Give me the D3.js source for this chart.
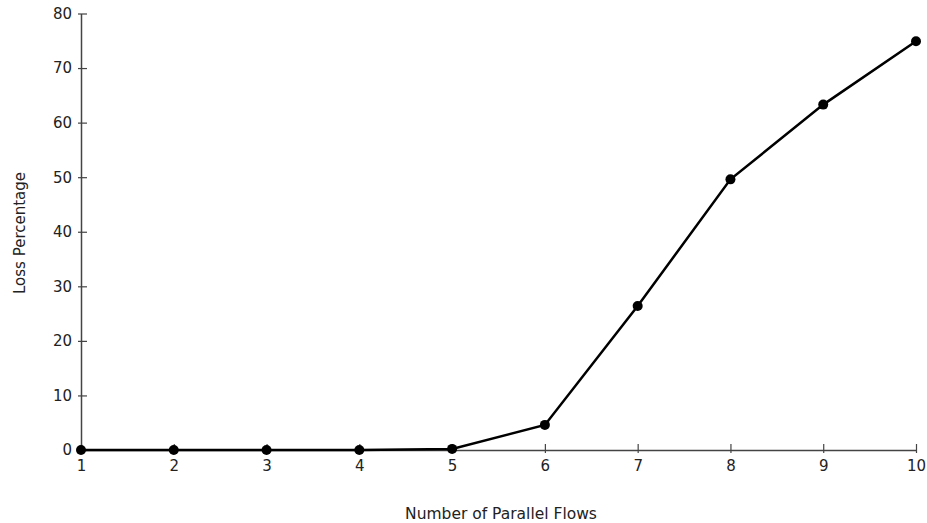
<!DOCTYPE html>
<html><head><meta charset="utf-8">
<script src="https://cdn.jsdelivr.net/npm/d3@7"></script>
<style>
body{margin:0;background:#fff;}
text{font-family:"DejaVu Sans",sans-serif;fill:#222;}
</style></head>
<body><svg id="c" width="927" height="523"></svg>
<script>
const flows = [1,2,3,4,5,6,7,8,9,10];
const loss = [0,0,0,0,0.2,4.6,26.4,49.6,63.3,74.9];
const yTicks = [0,10,20,30,40,50,60,70,80];

const svg = d3.select("#c");
const x = d3.scaleLinear().domain([1,10]).range([81,916]);
const y = d3.scaleLinear().domain([0,80]).range([450,13.5]);

const xa = svg.append("g").attr("transform","translate(0,450)")
  .call(d3.axisBottom(x).tickValues(flows).tickFormat(d3.format("d")).tickSizeInner(6).tickSizeOuter(0).tickPadding(3));
xa.selectAll(".tick line").attr("y1",-6).attr("y2",3);
const ya = svg.append("g").attr("transform","translate(81,0)")
  .call(d3.axisLeft(y).tickValues(yTicks).tickSizeInner(3).tickSizeOuter(0).tickPadding(6));
ya.selectAll(".tick line").attr("x1",-3).attr("x2",6);
svg.selectAll(".domain").attr("stroke","#444").attr("stroke-width",1.5);
svg.selectAll(".tick line").attr("stroke","#444").attr("stroke-width",1.2);
svg.selectAll(".tick text").attr("font-size",15).attr("fill","#222");
xa.selectAll(".tick text").attr("dy","0.8em");

const line = d3.line().x((d,i)=>x(flows[i])).y(d=>y(d));
svg.append("path").datum(loss).attr("d",line).attr("fill","none").attr("stroke","#000").attr("stroke-width",2.5);
svg.selectAll("circle.pt").data(loss).enter().append("circle")
  .attr("cx",(d,i)=>x(flows[i])).attr("cy",d=>y(d)).attr("r",5).attr("fill","#000");

svg.append("text").attr("x",501).attr("y",519).attr("text-anchor","middle").attr("font-size",15.5).text("Number of Parallel Flows");
svg.append("text").attr("transform","translate(25,233) rotate(-90)").attr("text-anchor","middle").attr("font-size",15).text("Loss Percentage");
</script></body></html>
